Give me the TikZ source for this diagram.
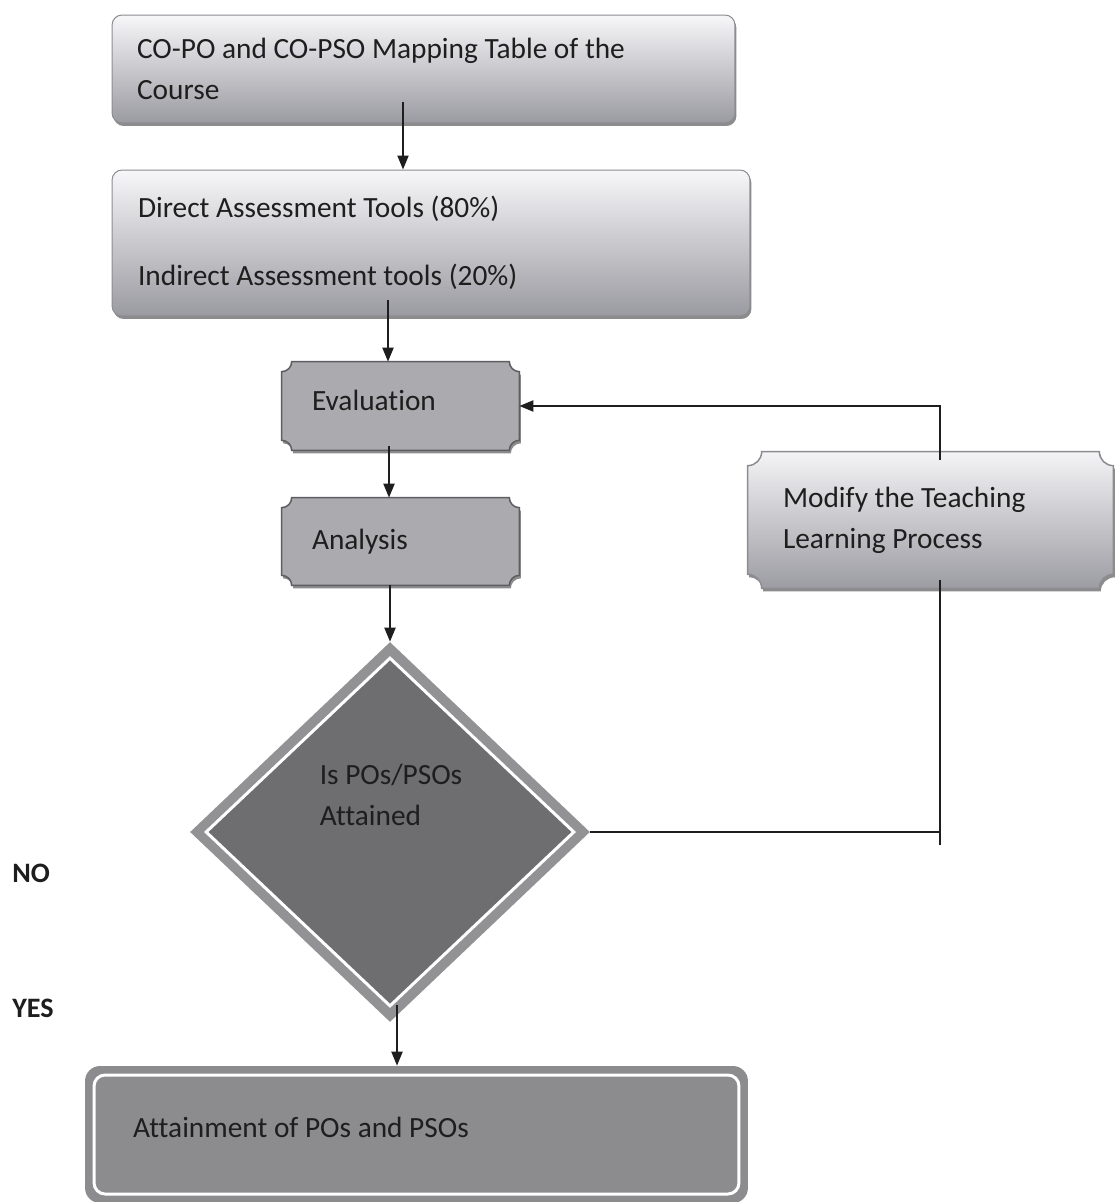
\documentclass[tikz,border=0pt]{standalone}
\usepackage{fontspec}
\setmainfont{Carlito}[Ligatures=NoCommon]
\usetikzlibrary{arrows.meta,calc,shapes.geometric,shadows}
\pgfdeclarelayer{background}
\pgfdeclarelayer{canvas}
\pgfsetlayers{canvas,background,main}
\definecolor{ink}{HTML}{1E1E1E}
\definecolor{boxtop}{HTML}{F7F7F9}
\definecolor{boxmid}{HTML}{D8D8DD}
\definecolor{boxbot}{HTML}{9A9AA1}
\definecolor{boxedge}{HTML}{8C8C92}
\definecolor{plq}{HTML}{ABABAF}
\definecolor{plqedge}{HTML}{5E5E62}
\definecolor{modtop}{HTML}{F4F4F6}
\definecolor{modbot}{HTML}{9C9CA3}
\definecolor{decband}{HTML}{929295}
\definecolor{decin}{HTML}{6E6E71}
\definecolor{finband}{HTML}{8C8C8F}
\newcommand\plaquepath[3]{%
  \path[#3] ($(#1.north west)+(#2,0)$) -- ($(#1.north east)+(-#2,0)$)
    arc[start angle=180,end angle=270,radius=#2]
    -- ($(#1.south east)+(0,#2)$)
    arc[start angle=90,end angle=180,radius=#2]
    -- ($(#1.south west)+(#2,0)$)
    arc[start angle=0,end angle=90,radius=#2]
    -- ($(#1.north west)+(0,-#2)$)
    arc[start angle=270,end angle=360,radius=#2] -- cycle;}
\begin{document}
\begin{tikzpicture}[x=0.02cm,y=0.02cm,
  font=\fontsize{16.7}{23.3}\selectfont, text=ink,
  conn/.style={draw=ink, line width=0.04cm},
  arr/.style={conn, -{Triangle[length=0.28cm,width=0.22cm]}},
  shad/.style={drop shadow={shadow xshift=0.03cm, shadow yshift=-0.06cm, opacity=0.45, fill=black}},
  gbox/.style={rectangle, rounded corners=0.2cm, draw=boxedge, line width=0.02cm,
    top color=boxtop, middle color=boxmid, bottom color=boxbot, shad, align=flush left, inner ysep=0pt},
  plaquenode/.style={rectangle, inner ysep=0pt, align=flush left},
  plaquefill/.style={fill=plq, draw=plqedge, line width=0.03cm, shad},
  modfill/.style={top color=modtop, bottom color=modbot, draw=boxedge, line width=0.03cm, shad},
  sidelabel/.style={anchor=west, inner sep=0pt, font=\bfseries\fontsize{16}{20}\selectfont}
]
\begin{pgfonlayer}{canvas}
\fill[white] (0,0) rectangle (1115,-1202);
\end{pgfonlayer}
\useasboundingbox (0,0) rectangle (1115,-1202);

% boxes
\node[gbox, minimum width=12.46cm, minimum height=2.16cm, text width=11.46cm, inner xsep=0.5cm]
  (box1) at (423.5,-69) {CO-PO and CO-PSO Mapping Table of the\\Course};
\node[gbox, minimum width=12.76cm, minimum height=2.92cm, text width=11.72cm, inner xsep=0.52cm]
  (box2) at (431,-243) {Direct Assessment Tools (80\%)\\[0.54cm]Indirect Assessment tools (20\%)};
\node[plaquenode, minimum width=4.74cm, minimum height=1.76cm, text width=3.54cm, inner xsep=0.6cm, text depth=0.22cm]
  (eval) at (400.5,-406) {Evaluation};
\node[plaquenode, minimum width=4.74cm, minimum height=1.74cm, text width=3.54cm, inner xsep=0.6cm]
  (ana) at (400.5,-541.5) {Analysis};
\node[plaquenode, minimum width=7.3cm, minimum height=2.72cm, text width=5.9cm, inner xsep=0.7cm]
  (mod) at (930.5,-520) {Modify the Teaching\\Learning Process};

\node[diamond, minimum width=8cm, minimum height=7.6cm, inner sep=0pt, fill=decband,
  path picture={\path[fill=decin, draw=white, line width=0.06cm]
    ($(path picture bounding box.north)+(0,-16)$) -- ($(path picture bounding box.east)+(-16,0)$)
    -- ($(path picture bounding box.south)+(0,16)$) -- ($(path picture bounding box.west)+(16,0)$) -- cycle;}]
  (dec) at (390,-832) {};
\node[align=flush left, inner sep=0pt] (dectxt) at (391,-795) {Is POs/PSOs\\Attained};

\node[rectangle, rounded corners=0.3cm, fill=finband, minimum width=13.26cm, minimum height=2.74cm,
  text width=11.34cm, inner xsep=0.96cm, inner ysep=0pt, align=flush left, text depth=0.3cm,
  path picture={\draw[white, line width=0.06cm, rounded corners=0.22cm]
    ($(path picture bounding box.south west)+(9,9)$) rectangle ($(path picture bounding box.north east)+(-9,-9)$);}]
  (fin) at (416.5,-1134.5) {Attainment of POs and PSOs};

\node[sidelabel] (no) at (12,-873) {NO};
\node[sidelabel] (yes) at (12,-1008) {YES};

\begin{pgfonlayer}{background}
\plaquepath{eval}{10}{plaquefill}
\plaquepath{ana}{10}{plaquefill}
\plaquepath{mod}{14}{modfill}
\end{pgfonlayer}

% connectors
\coordinate (s1) at (403,-102);
\draw[arr] (s1) -- (s1 |- box2.north);
\coordinate (s2) at (388,-300);
\draw[arr] (s2) -- (s2 |- eval.north);
\coordinate (s3) at (389,-446);
\draw[arr] (s3) -- (s3 |- ana.north);
\draw[arr] (ana.south -| dec.north) -- (dec.north);
\coordinate (s5) at (397,-1005);
\draw[arr] (s5) -- (s5 |- fin.north);

\coordinate (lb) at (940,-845);
\coordinate (lm) at (940,-580);
\coordinate (lt) at (940,-460);
\draw[conn] (dec.east) -- (dec.east -| lb);
\draw[conn] (lb) -- (lm);
\draw[arr] (lt) -- (lt |- eval.east) -- (eval.east);
\end{tikzpicture}
\end{document}
